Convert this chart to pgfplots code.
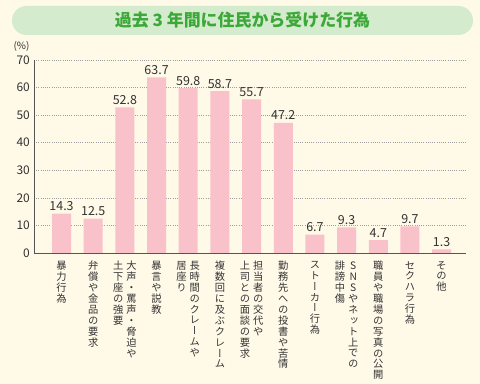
\documentclass[border=0pt]{standalone}
\usepackage{fontspec}
\setmainfont{Noto Sans CJK JP}
\newfontfamily\cjkv[RawFeature={+vert}]{Noto Sans CJK JP}
\usepackage{pgfplots}
\pgfplotsset{compat=1.18}
\definecolor{bg}{HTML}{FFF9E8}
\definecolor{titlebg}{HTML}{D4EBCE}
\definecolor{titlegreen}{HTML}{3BA838}
\definecolor{barpink}{HTML}{F9C1C9}
\definecolor{txt}{HTML}{333333}
\definecolor{axl}{HTML}{555555}
\def\vcolaux#1{\ifx#1\relax\else\hbox to 1em{\hss#1\hss}\expandafter\vcolaux\fi}
\protected\def\vcol#1{\vtop{\cjkv\fontsize{10.3}{10.3}\selectfont\baselineskip=10.9bp\lineskiplimit=-20pt\lineskip=0pt\vcolaux#1\relax}}
\protected\def\vtwo#1#2{\hbox{\vcol{#2}\kern3bp\vcol{#1}}}
\begin{document}
\begin{tikzpicture}
\path[use as bounding box] (0,0) rectangle (480bp,384bp);
\fill[bg] (0,0) rectangle (480bp,384bp);
\node[fill=titlebg, rounded corners=14.5bp, minimum width=461bp, minimum height=29bp, inner sep=0pt] at (242.5bp,363.5bp)
  {\fontsize{17}{17}\selectfont\bfseries\color{titlegreen}過去 3 年間に住民から受けた行為};
\node[font=\fontsize{10}{10}\selectfont, text=txt, inner sep=0pt] at (21.5bp,338bp) {(\%)};
\begin{axis}[
  at={(34bp,131bp)}, anchor=south west,
  scale only axis, width=432bp, height=193bp,
  ymin=0, ymax=70, ytick={0,10,...,70},
  xmin=-0.87, xmax=12.77,
  xtick=data,
  xticklabels={
    \vcol{暴力行為},
    \vcol{弁償や金品の要求},
    \vtwo{大声・罵声・脅迫や}{土下座の強要},
    \vcol{暴言や説教},
    \vtwo{長時間のクレームや}{居座り},
    \vcol{複数回に及ぶクレーム},
    \vtwo{担当者の交代や}{上司との面談の要求},
    \vcol{勤務先への投書や苦情},
    \vcol{ストーカー行為},
    \vtwo{SNSやネット上での}{誹謗中傷},
    \vcol{職員や職場の写真の公開},
    \vcol{セクハラ行為},
    \vcol{その他}},
  axis x line*=bottom, axis y line*=left,
  axis line style={axl, line width=0.9bp},
  major tick length=0pt,
  ymajorgrids,
  grid style={gray!75, line width=0.6bp, dash pattern=on 0.8bp off 1.4bp},
  /pgf/number format/assume math mode=true,
  yticklabel style={font=\fontsize{12}{12}\selectfont, text=txt, inner sep=0pt, xshift=-4bp, anchor=east},
  xticklabel style={text=txt, inner sep=0pt, anchor=north, yshift=-8bp},
  ybar, bar width=19bp,
  nodes near coords={\pgfmathprintnumber[fixed,fixed zerofill,precision=1]{\pgfplotspointmeta}},
  every node near coord/.append style={font=\fontsize{12.5}{12.5}\selectfont, text=txt, anchor=base, inner sep=0pt, yshift=3bp},
]
\addplot[fill=barpink, draw=none] coordinates {
(0,14.3) (1,12.5) (2,52.8) (3,63.7) (4,59.8) (5,58.7) (6,55.7)
(7,47.2) (8,6.7) (9,9.3) (10,4.7) (11,9.7) (12,1.3)};
\end{axis}
\end{tikzpicture}
\end{document}
